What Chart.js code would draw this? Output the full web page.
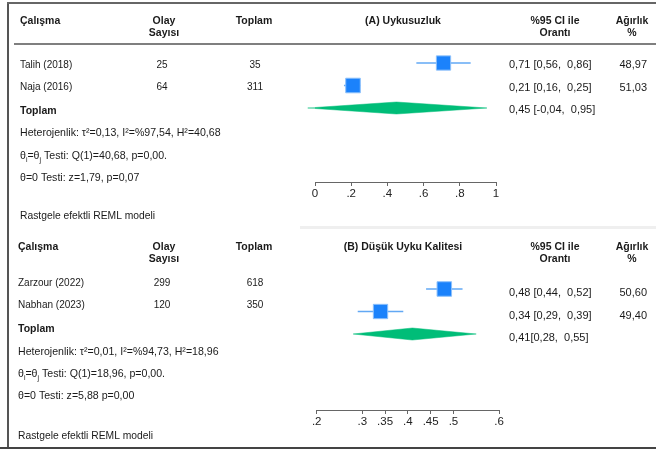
<!DOCTYPE html>
<html>
<head>
<meta charset="utf-8">
<script src="https://cdn.jsdelivr.net/npm/chart.js@4.4.1/dist/chart.umd.min.js"></script>
<style>
  body { margin: 0; background: #fff; }
  #wrap { position: relative; width: 656px; height: 449px; overflow: hidden; background: #fff; }
  #wrap canvas { position: absolute; left: 0; }
  #cA { top: 0; }
  #cB { top: 226px; }
  .ln { position: absolute; }
</style>
</head>
<body>
<div id="wrap">
  <canvas id="cA" width="656" height="226"></canvas>
  <canvas id="cB" width="656" height="223"></canvas>
  <div class="ln" style="left:7px;top:2px;width:2px;height:447px;background:#555"></div>
  <div class="ln" style="left:7px;top:2px;width:649px;height:1.5px;background:#666"></div>
  <div class="ln" style="left:300px;top:226px;width:356px;height:3px;background:#efefef"></div>
  <div class="ln" style="left:0;top:447px;width:656px;height:2px;background:#444"></div>
</div>
<script>
// (A) Uykusuzluk
const studiesA = ['Talih (2018)', 'Naja (2016)'];
const eventsA = [25, 64];
const totalsA = [35, 311];
const propA = [0.71, 0.21];
const lowA = [0.56, 0.16];
const highA = [0.86, 0.25];
const weightA = [48.97, 51.03];
const pooledA = [0.45, -0.04, 0.95]; // oran, alt, ust
const statsA = [
  'Heterojenlik: τ²=0,13, I²=%97,54, H²=40,68',
  'θ_i=θ_j Testi: Q(1)=40,68, p=0,00.',
  'θ=0 Testi: z=1,79, p=0,07'
];
const ticksA = [0, 0.2, 0.4, 0.6, 0.8, 1];

// (B) Düşük Uyku Kalitesi
const studiesB = ['Zarzour (2022)', 'Nabhan (2023)'];
const eventsB = [299, 120];
const totalsB = [618, 350];
const propB = [0.48, 0.34];
const lowB = [0.44, 0.29];
const highB = [0.52, 0.39];
const weightB = [50.60, 49.40];
const pooledB = [0.41, 0.28, 0.55];
const statsB = [
  'Heterojenlik: τ²=0,01, I²=%94,73, H²=18,96',
  'θ_i=θ_j Testi: Q(1)=18,96, p=0,00.',
  'θ=0 Testi: z=5,88 p=0,00'
];
const ticksB = [0.2, 0.3, 0.35, 0.4, 0.45, 0.5, 0.6];

const FONT = '"Liberation Sans", Arial, sans-serif';
const fmt = v => v.toFixed(2).replace('.', ',');
const fmtTick = v => (v === 0 || v === 1) ? String(v) : String(v).replace(/^0/, '');

function drawText(ctx, s, x, y, size, bold, align) {
  ctx.font = (bold ? 'bold ' : '') + size + 'px ' + FONT;
  ctx.textAlign = align || 'left';
  ctx.textBaseline = 'middle';
  ctx.fillStyle = '#1a1a1a';
  ctx.fillText(s, x, y);
}

// "_x" -> subscript x
function drawRich(ctx, s, x, y, size) {
  let cx = x;
  ctx.textAlign = 'left';
  ctx.textBaseline = 'middle';
  ctx.fillStyle = '#1a1a1a';
  s.split(/(_.)/).forEach(part => {
    if (!part) return;
    const sub = part[0] === '_';
    const t = sub ? part.slice(1) : part;
    ctx.font = (sub ? size * 0.65 : size) + 'px ' + FONT;
    ctx.fillText(t, cx, sub ? y + size * 0.35 : y);
    cx += ctx.measureText(t).width;
  });
}

function tablePlugin(p) {
  return {
    id: 'forestTable',
    afterDraw(chart) {
      const ctx = chart.ctx;
      const y = chart.scales.y;
      ctx.save();
      // headers
      drawText(ctx, 'Çalışma', p.nameX, 21, 10.5, true);
      drawText(ctx, 'Olay', 164, 21, 10.5, true, 'center');
      drawText(ctx, 'Sayısı', 164, 33, 10.5, true, 'center');
      drawText(ctx, 'Toplam', 254, 21, 10.5, true, 'center');
      drawText(ctx, p.title, 403, 21, 10.5, true, 'center');
      drawText(ctx, '%95 CI ile', 555, 21, 10.5, true, 'center');
      drawText(ctx, 'Orantı', 555, 33, 10.5, true, 'center');
      drawText(ctx, 'Ağırlık', 632, 21, 10.5, true, 'center');
      drawText(ctx, '%', 632, 33, 10.5, true, 'center');
      if (p.headerLine) {
        ctx.strokeStyle = '#555';
        ctx.lineWidth = 1.5;
        ctx.beginPath();
        ctx.moveTo(14, 44);
        ctx.lineTo(656, 44);
        ctx.stroke();
      }
      // study rows
      p.studies.forEach((s, i) => {
        const ly = y.getPixelForValue(i) + p.leftShift;
        const ry = y.getPixelForValue(i) + p.rightShift;
        drawText(ctx, s, p.nameX, ly, 10);
        drawText(ctx, String(p.events[i]), 162, ly, 10, false, 'center');
        drawText(ctx, String(p.totals[i]), 255, ly, 10, false, 'center');
        drawText(ctx, fmt(p.prop[i]) + ' [' + fmt(p.low[i]) + ',  ' + fmt(p.high[i]) + ']', 509, ry, 11);
        drawText(ctx, fmt(p.weight[i]), 647, ry, 11, false, 'right');
      });
      const k = p.studies.length;
      drawText(ctx, 'Toplam', p.nameX, y.getPixelForValue(k) + p.leftShift + 1, 10.5, true);
      const pl = p.pooled;
      drawText(ctx, fmt(pl[0]) + p.pooledGap + '[' + fmt(pl[1]) + ',  ' + fmt(pl[2]) + ']',
        509, y.getPixelForValue(k) + p.rightShift, 11);
      p.stats.forEach((s, i) => drawRich(ctx, s, p.nameX, p.statsY[i], 10.6));
      drawText(ctx, 'Rastgele efektli REML modeli', p.nameX, p.modelY, 10.3);
      ctx.restore();
    }
  };
}

function makePanel(p) {
  const W = 656;
  const top = 40;
  const rowGap = 22.5;
  const yMin = -(p.rowFirst - top) / rowGap;
  const yMax = yMin + (p.axisY - top) / rowGap;
  const k = p.studies.length;
  const hh = 6 / rowGap;
  const pl = p.pooled;

  const squares = {
    data: p.prop.map((v, i) => ({ x: v, y: i })),
    pointStyle: 'rect',
    pointRadius: p.weight.map(w => 10.2 * Math.sqrt(w / 50)),
    backgroundColor: '#1b82fb',
    borderColor: '#8cc0fb',
    borderWidth: 1,
    showLine: false
  };
  const ciLines = p.prop.map((v, i) => ({
    data: [{ x: p.low[i], y: i }, { x: p.high[i], y: i }],
    showLine: true,
    borderColor: '#62a8f4',
    borderWidth: 1.5,
    pointRadius: 0
  }));
  const diamond = {
    data: [
      { x: pl[1], y: k }, { x: pl[0], y: k - hh }, { x: pl[2], y: k },
      { x: pl[0], y: k + hh }, { x: pl[1], y: k }
    ],
    showLine: true,
    fill: 'shape',
    backgroundColor: '#00bd78',
    borderColor: '#00bd78',
    borderWidth: 0.5,
    pointRadius: 0,
    tension: 0,
    clip: false
  };

  new Chart(document.getElementById(p.id), {
    type: 'scatter',
    data: { datasets: [squares, ...ciLines, diamond] },
    options: {
      responsive: false,
      animation: false,
      layout: { padding: { left: p.plotLeft, right: W - p.plotRight, top: top, bottom: 0 } },
      plugins: { legend: { display: false }, tooltip: { enabled: false } },
      scales: {
        x: {
          type: 'linear',
          min: p.xMin,
          max: p.xMax,
          afterFit: s => { s.height = p.height - p.axisY; },
          afterBuildTicks: s => { s.ticks = p.ticks.map(v => ({ value: v })); },
          grid: { drawOnChartArea: false, drawTicks: true, tickLength: 4, color: '#666', lineWidth: 1 },
          border: { display: true, color: '#666', width: 1 },
          ticks: {
            callback: v => fmtTick(v),
            font: { family: FONT, size: 11.5 },
            color: '#222',
            padding: 1,
            maxRotation: 0,
            autoSkip: false
          }
        },
        y: { type: 'linear', display: false, reverse: true, min: yMin, max: yMax }
      }
    },
    plugins: [tablePlugin(p)]
  });
}

makePanel({
  id: 'cA', height: 226, title: '(A) Uykusuzluk',
  studies: studiesA, events: eventsA, totals: totalsA, prop: propA, low: lowA, high: highA,
  weight: weightA, pooled: pooledA, pooledGap: ' ', stats: statsA, ticks: ticksA,
  xMin: 0, xMax: 1, plotLeft: 315, plotRight: 496, axisY: 182, rowFirst: 63,
  nameX: 20, leftShift: 2, rightShift: 2, statsY: [133, 156, 178], modelY: 216, headerLine: true
});

makePanel({
  id: 'cB', height: 223, title: '(B) Düşük Uyku Kalitesi',
  studies: studiesB, events: eventsB, totals: totalsB, prop: propB, low: lowB, high: highB,
  weight: weightB, pooled: pooledB, pooledGap: '', stats: statsB, ticks: ticksB,
  xMin: 0.2, xMax: 0.6, plotLeft: 316.7, plotRight: 499, axisY: 184, rowFirst: 63,
  nameX: 18, leftShift: -6, rightShift: 4, statsY: [126, 148, 170], modelY: 210, headerLine: false
});
</script>
</body>
</html>
